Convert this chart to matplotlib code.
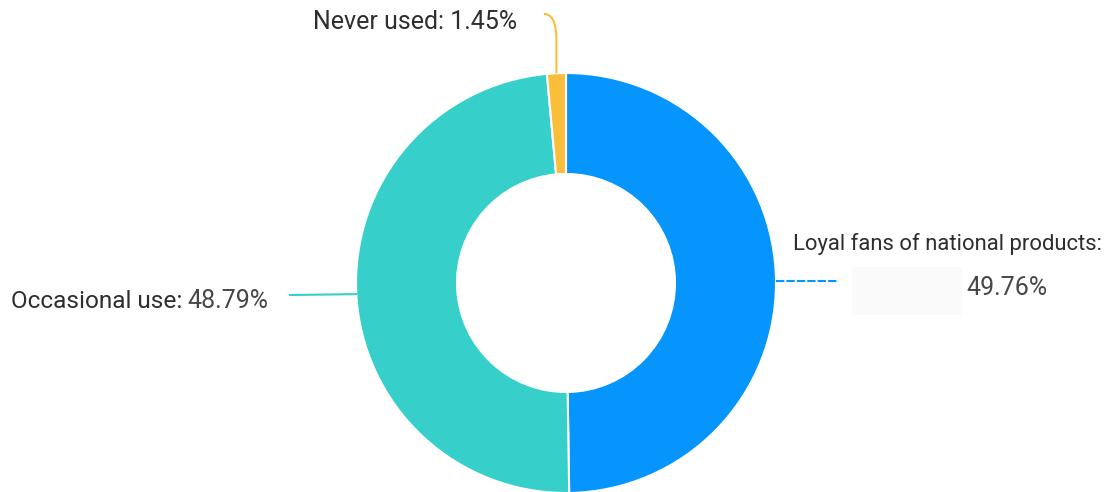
import matplotlib
matplotlib.use("Agg")
import matplotlib.pyplot as plt
import numpy as np
from matplotlib.path import Path
from matplotlib.patches import PathPatch, Rectangle

labels = ["Loyal fans of national products:", "Occasional use:", "Never used:"]
values = [49.76, 48.79, 1.45]
colors = ["#0595fd", "#36cfc9", "#fbbe3a"]

W, H = 1108, 492
plt.rcParams['font.family'] = ['Roboto', 'DejaVu Sans']

fig = plt.figure(figsize=(W / 100, H / 100), dpi=100)
ax = fig.add_axes([0, 0, 1, 1])


def Y(py):
    # pixel row -> data y
    return H - py


cx, cy, r_out, r_in = 566, 283, 210, 109
wedges, _ = ax.pie(values, colors=colors, startangle=90, counterclock=False,
                   radius=r_out, center=(cx, Y(cy)),
                   wedgeprops=dict(width=r_out - r_in, edgecolor="white", linewidth=1.5))
ax.set_xlim(0, W)
ax.set_ylim(0, H)
ax.set_aspect("equal")
ax.axis("off")


def edge_point(w):
    a = np.deg2rad((w.theta1 + w.theta2) / 2)
    return cx + r_out * np.cos(a), Y(cy) + r_out * np.sin(a)


txt = "#2e2e2e"
pct = "#474747"
fs = 18

# loyal fans (right)
x0, y0 = edge_point(wedges[0])
ax.plot([x0, 838], [y0, y0], color=colors[0], lw=1.5, ls=(0, (4, 1)))
ax.add_patch(Rectangle((852, Y(315)), 110, 48, color="#fafafa", lw=0, zorder=0))
ax.text(793, Y(244), labels[0], fontsize=15.8, color=txt, va="center", ha="left")
ax.text(966, Y(288), f"{values[0]:.2f}%", fontsize=fs, color=pct, va="center", ha="left")

# occasional use (left)
x1, y1 = edge_point(wedges[1])
ax.plot([x1, 290], [y1, Y(295)], color=colors[1], lw=1.5)
ax.text(11, Y(301), labels[1], fontsize=17.6, color=txt, va="center", ha="left")
ax.text(187, Y(301), f"{values[1]:.2f}%", fontsize=fs, color=pct, va="center", ha="left")

# never used (top)
x2, y2 = edge_point(wedges[2])
path = Path([(x2, y2), (x2, Y(40)), (x2, Y(14)), (544, Y(14))],
            [Path.MOVETO, Path.LINETO, Path.CURVE3, Path.CURVE3])
ax.add_patch(PathPatch(path, fill=False, edgecolor=colors[2], lw=1.5))
ax.text(313, Y(22), f"{labels[2]} {values[2]:.2f}%", fontsize=fs, color=txt,
        va="center", ha="left")

fig.savefig("out.png", dpi=100, facecolor="white")
